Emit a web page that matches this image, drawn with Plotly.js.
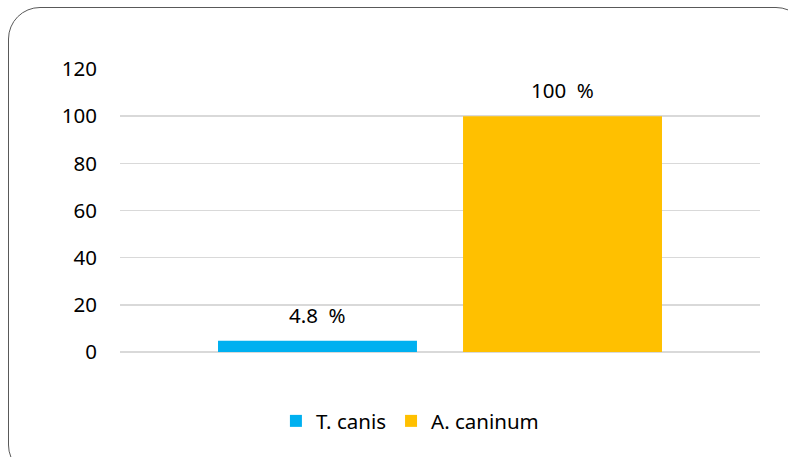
<!DOCTYPE html>
<html><head><meta charset="utf-8">
<script src="https://cdn.plot.ly/plotly-3.0.1.min.js"></script>
<style>
html,body{margin:0;padding:0;width:788px;height:457px;overflow:hidden;background:#fff;}
#frame{position:absolute;left:8px;top:7px;width:800px;height:470px;border:1.5px solid #595959;border-radius:32px;box-sizing:border-box;}
#chart{position:absolute;left:0;top:0;width:788px;height:457px;}
</style></head>
<body>
<div id="frame"></div>
<div id="chart"></div>
<script>
const categories = ['T. canis', 'A. caninum'];
const values = [4.8, 100];
const labels = ['4.8\u00a0\u00a0%', '100\u00a0\u00a0%'];
const colors = ['#00B0F0', '#FFC000'];
const yTicks = [0, 20, 40, 60, 80, 100, 120];

const font = {family: 'Noto Sans, Open Sans, sans-serif', size: 20.5, color: '#000'};
const traces = categories.map((c, i) => ({
  type: 'bar', name: c, x: [c], y: [values[i]], width: 0.812,
  marker: {color: colors[i]}, hoverinfo: 'none'
}));
const annotations = categories.map((c, i) => ({
  x: c, y: values[i], xref: 'x', yref: 'y', text: labels[i], showarrow: false,
  yanchor: 'bottom', yshift: 10, font: font
}));
Plotly.newPlot('chart', traces, {
  width: 788, height: 457,
  paper_bgcolor: 'rgba(0,0,0,0)', plot_bgcolor: 'rgba(0,0,0,0)',
  margin: {l: 120, r: 28, t: 69, b: 105},
  barmode: 'overlay',
  font: font,
  xaxis: {type: 'category', range: [-0.806, 1.806], showticklabels: false, showgrid: false, zeroline: false, showline: false, ticks: ''},
  yaxis: {range: [0, 120], tickvals: yTicks, showgrid: true, gridcolor: '#D9D9D9', gridwidth: 1.5,
    zeroline: true, zerolinecolor: '#D9D9D9', zerolinewidth: 1.5, showline: false, ticks: '',
    ticklabelstandoff: 22, tickfont: font},
  showlegend: true,
  legend: {orientation: 'h', x: 0.453, xanchor: 'center', y: -0.244, yanchor: 'middle', font: font, itemwidth: 30},
  annotations: annotations
}, {staticPlot: true});
</script>
</body></html>
